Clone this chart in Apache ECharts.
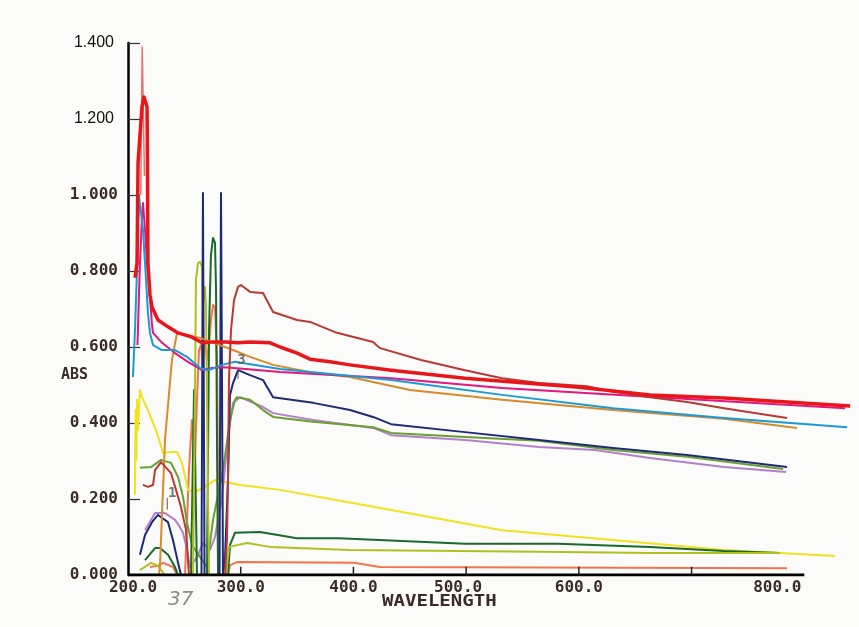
<!DOCTYPE html>
<html>
<head>
<meta charset="utf-8">
<script src="https://cdn.jsdelivr.net/npm/echarts@6/dist/echarts.min.js"></script>
<style>
html,body{margin:0;padding:0;background:#fbfbf9;}
#chart{width:859px;height:627px;}
</style>
</head>
<body>
<div id="chart"></div>
<script>
// ---- tick labels ----
const yTickLabels = ['0.000','0.200','0.400','0.600','0.800','1.000','1.200','1.400'];
const xTickLabels = {200:'200.0',300:'300.0',400:'400.0',500:'500.0',600:'600.0',800:'800.0'};
const xTickMarks = [300,400,500,600,700];

// ---- series values: [wavelength nm, absorbance] ----
const thickRed = [[206.2,0.782],[208.0,0.821],[208.9,1.084],[212.4,1.232],[214.2,1.258],[216.9,1.232],[217.3,1.084],[217.7,0.821],[219.5,0.737],[221.3,0.705],[226.6,0.671],[235.5,0.653],[244.4,0.637],[256.8,0.626],[265.7,0.611],[274.5,0.613],[286.1,0.613],[297.6,0.611],[308.3,0.613],[326.0,0.611],[334.9,0.600],[350.0,0.584],[361.5,0.568],[379.2,0.561],[397.0,0.553],[433.4,0.539],[499.0,0.518],[597.5,0.495],[663.2,0.474],[728.8,0.466],[840.7,0.445]];
const redSpike = [[211.3,1.0],[212.6,1.39],[214.6,1.05]];
const brick = [[213.3,0.237],[217.7,0.232],[222.2,0.237],[224.0,0.276],[229.3,0.297],[238.2,0.268],[242.6,0.224],[247.0,0.179],[251.5,0.118],[253.2,0.039],[254.1,0],[270,'-'],[286.1,0],[287.8,0.092],[288.7,0.250],[289.6,0.513],[291.4,0.645],[294.1,0.724],[297.6,0.758],[300.3,0.763],[308.3,0.745],[319.8,0.742],[328.7,0.692],[350.0,0.671],[361.5,0.666],[383.7,0.639],[417.4,0.613],[423.6,0.597],[460.0,0.566],[499.0,0.539],[531.9,0.518],[564.7,0.505],[607.3,0.497],[630.3,0.482],[663.2,0.468],[696.0,0.455],[728.8,0.439],[784.7,0.413]];
const cyan = [[204.4,0.521],[206.2,0.645],[208.0,0.803],[209.8,0.995],[211.5,1.0],[213.3,0.908],[215.1,0.821],[217.7,0.689],[219.5,0.637],[222.2,0.605],[230.2,0.592],[241.7,0.592],[252.4,0.574],[263.9,0.545],[271.0,0.539],[277.2,0.545],[283.4,0.553],[294.9,0.561],[334.9,0.542],[433.4,0.513],[531.9,0.474],[630.3,0.439],[728.8,0.413],[838.0,0.389]];
const magenta = [[208.4,0.605],[210.6,0.821],[212.4,0.942],[213.3,0.979],[215.1,0.908],[216.9,0.821],[219.5,0.732],[221.3,0.658],[222.2,0.637],[230.2,0.611],[241.7,0.584],[253.2,0.561],[265.7,0.539],[274.5,0.545],[286.1,0.547],[334.9,0.534],[433.4,0.518],[531.9,0.492],[620.6,0.476],[707.5,0.461],[836.2,0.439]];
const orange = [[227.5,0],[228.4,0.026],[232.8,0.355],[239.0,0.566],[243.5,0.637],[263.9,0.624],[293.2,0.592],[308.3,0.574],[328.7,0.553],[364.2,0.532],[397.0,0.521],[450.2,0.487],[531.9,0.461],[630.3,0.434],[728.8,0.411],[793.6,0.387]];
const navy = [[210.6,0.053],[215.1,0.105],[221.3,0.139],[226.6,0.158],[235.5,0.139],[239.9,0.092],[244.4,0.032],[247.0,0],[255,'-'],[265.2,0],[266.5,1.005],[267.9,0],[275,'-'],[281.2,0],[282.5,1.005],[284.3,0],[286.1,0.047],[288.7,0.25],[290.5,0.474],[293.2,0.505],[297.6,0.539],[308.3,0.526],[319.8,0.513],[328.7,0.468],[364.2,0.453],[397.0,0.434],[417.4,0.416],[433.4,0.397],[499.0,0.376],[564.7,0.355],[630.3,0.334],[696.0,0.316],[784.7,0.284]];
const olive = [[210.6,0.013],[220.4,0.032],[226.6,0.024],[232.8,0],[245,'-'],[257.7,0],[259.4,0.461],[260.3,0.776],[262.1,0.821],[263.9,0.824],[265.7,0.811],[266.5,0.716],[268.3,0.758],[269.2,0.705],[270.1,0.461],[271.0,0.197],[271.9,0],[280,'-'],[287.0,0],[289.6,0.074],[305.6,0.084],[326.0,0.074],[397.0,0.066],[564.7,0.061],[663.2,0.058],[778.5,0.058]];
const darkGreen = [[215.1,0.039],[224.0,0.071],[228.4,0.071],[235.5,0.053],[241.7,0.021],[244.4,0],[250,'-'],[255.9,0],[258.6,0.487],[261.2,0],[265,'-'],[270.1,0],[271.9,0.645],[273.6,0.842],[275.4,0.887],[277.2,0.874],[278.1,0.75],[279.0,0.329],[279.9,0],[284,'-'],[288.7,0],[290.5,0.079],[294.9,0.111],[317.1,0.113],[350.0,0.097],[387.2,0.097],[499.0,0.082],[581.5,0.082],[663.2,0.074],[728.8,0.063],[778.5,0.058]];
const midGreen = [[210.6,0.282],[220.4,0.284],[229.3,0.303],[238.2,0.295],[244.4,0.258],[248.8,0.205],[252.4,0.137],[256.8,0.079],[263.9,0.047],[270.1,0.021],[275.4,0.145],[284.3,0.276],[290.5,0.408],[294.9,0.461],[296.7,0.468],[308.3,0.461],[319.8,0.434],[328.7,0.416],[364.2,0.403],[417.4,0.389],[433.4,0.374],[499.0,0.363],[564.7,0.353],[630.3,0.329],[696.0,0.311],[781.2,0.279]];
const lavender = [[215.1,0.118],[224.0,0.163],[232.8,0.163],[241.7,0.145],[246.1,0.126],[248.8,0.111],[252.4,0.066],[255.0,0.021],[261.2,0.047],[266.5,0.084],[272.8,0.066],[277.2,0.100],[283.4,0.205],[288.7,0.363],[293.2,0.453],[299.4,0.468],[319.8,0.442],[328.7,0.426],[364.2,0.408],[417.4,0.387],[433.4,0.368],[499.0,0.355],[564.7,0.337],[614.4,0.329],[663.2,0.308],[728.8,0.284],[783.9,0.271]];
const yellow = [[206.2,0.211],[206.7,0.434],[207.5,0.303],[208.0,0.461],[208.9,0.382],[210.6,0.487],[212.4,0.468],[217.7,0.434],[225.7,0.374],[231.1,0.321],[239.0,0.324],[243.5,0.324],[247.9,0.295],[253.2,0.224],[259.4,0.218],[268.3,0.232],[277.2,0.250],[286.1,0.245],[299.4,0.237],[334.9,0.224],[433.4,0.171],[531.9,0.118],[630.3,0.092],[728.8,0.066],[827.3,0.050]];
const salmon = [[219.5,0.021],[226.6,0.024],[231.1,0.032],[239.9,0.021],[243.5,0],[247,'-'],[250.6,0],[254.1,0.276],[256.8,0.408],[259.4,0.303],[261.2,0.461],[263.0,0.592],[264.8,0.605],[266.5,0.553],[268.3,0.618],[270.1,0.566],[271.9,0.605],[273.6,0.671],[275.4,0.711],[277.2,0.703],[279.0,0.566],[279.9,0.25],[280.7,0],[285,'-'],[288.7,0],[290.5,0.026],[296.7,0.034],[400.5,0.032],[423.6,0.021],[784.7,0.018]];

// annotation markers (peak numbers)
const peakLabels = [{text:'1', x:239.3, y:0.216}, {text:'3', x:300.6, y:0.566}];
const peakTicks = [[234.8,0.203],[234.8,0.172],[240,'-'],[297.6,0.539],[297.6,0.516]];

const chart = echarts.init(document.getElementById('chart'), null, {renderer:'canvas'});

function line(name, data, color, width, z){
  return {name, type:'line', data, symbol:'none', showSymbol:false, connectNulls:false,
    lineStyle:{color, width, join:'round'}, z: z||2, animation:false, silent:true};
}

const xTickData = [];
xTickMarks.forEach(v => { xTickData.push([v,0]); xTickData.push([v,0.022]); xTickData.push([v+1,'-']); });

const mono = {fontFamily:'DejaVu Sans Mono', fontWeight:'bold', fontSize:16, color:'#3a2b26'};
const sans = {fontFamily:'Liberation Sans', fontSize:16, color:'#111'};

const option = {
  backgroundColor:'#fbfbf9',
  animation:false,
  grid:{left:128, right:4, top:43, bottom:52},
  xAxis:{
    type:'value', min:200, max:845, interval:100,
    axisLine:{show:false}, axisTick:{show:false}, splitLine:{show:false},
    axisLabel:{
      margin:5,
      formatter:function(v){
        const k = Math.round(v);
        const t = xTickLabels[k];
        if(!t) return '';
        if(k===200) return '{p10| }{m|'+t+'}';
        if(k===800) return '{m|'+t+'}{p54| }';
        if(k===500) return '{m|'+t+'}{p16| }';
        return '{m|'+t+'}';
      },
      rich:{m:mono, p10:{width:10}, p16:{width:16}, p54:{width:54}}
    }
  },
  yAxis:{
    type:'value', min:0, max:1.4, interval:0.2,
    axisLine:{show:true, lineStyle:{color:'#000', width:2.5}},
    axisTick:{show:true, inside:true, length:12, lineStyle:{color:'#333', width:1.2}},
    splitLine:{show:false},
    axisLabel:{
      margin:10,
      formatter:function(v){
        const i = Math.round(v/0.2);
        const t = yTickLabels[i];
        if(!t) return '';
        if(i>=6) return '{s|'+t+'}{q| }';
        return '{m|'+t+'}';
      },
      rich:{m:mono, s:sans, q:{width:4}}
    }
  },
  graphic:[
    {type:'text', x:61, y:368, style:{text:'ABS', font:'bold 15px "DejaVu Sans Mono"', fill:'#3a2b26'}},
    {type:'text', x:382, y:595, scaleX:1.27, style:{text:'WAVELENGTH', font:'bold 15px "DejaVu Sans Mono"', fill:'#3a2b26'}},
    {type:'text', x:168, y:590, style:{text:'37', font:'italic 20px "DejaVu Sans"', fill:'#8a8a8a'}}
  ],
  series:[
    line('salmon', salmon, '#f0744f', 2, 2),
    line('yellow', yellow, '#f2e21e', 2, 2),
    line('lavender', lavender, '#b57fca', 2, 2),
    line('midGreen', midGreen, '#68a034', 2, 2),
    line('darkGreen', darkGreen, '#1a6a2c', 2, 2),
    line('olive', olive, '#b0c020', 2, 2),
    line('navy', navy, '#1e2a78', 2, 3),
    line('orange', orange, '#d98a2b', 2, 3),
    line('magenta', magenta, '#e3177d', 2, 3),
    line('cyan', cyan, '#1c9ad6', 2, 3),
    line('brick', brick, '#b83a32', 2, 3),
    line('redSpike', redSpike, '#f07070', 1.5, 3),
    line('thickRed', thickRed, '#e8161b', 3.5, 4),
    line('baseline', [[200,0],[800,0]], '#000', 3, 6),
    line('xTicks', xTickData, '#222', 1.5, 6),
    line('peakTicks', peakTicks, '#555', 1, 6),
    {type:'scatter', name:'peakLabels', symbolSize:0, z:7, silent:true,
     data: peakLabels.map(p => ({value:[p.x,p.y], label:{show:true, formatter:p.text}})),
     label:{position:'inside', fontFamily:'DejaVu Sans Mono', fontWeight:'bold', fontSize:14, color:'#555'}}
  ]
};
chart.setOption(option);
</script>
</body>
</html>
